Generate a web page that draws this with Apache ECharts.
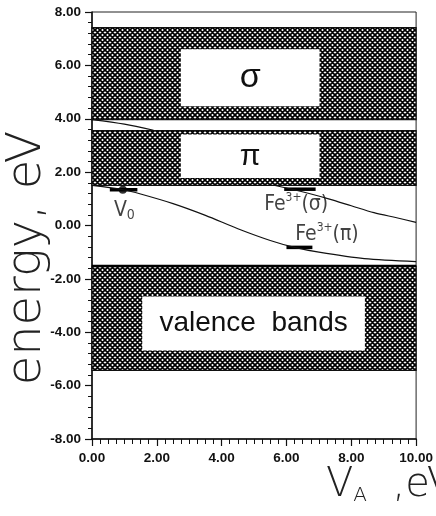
<!DOCTYPE html>
<html>
<head>
<meta charset="utf-8">
<script src="https://cdn.jsdelivr.net/npm/echarts@6/dist/echarts.min.js"></script>
<style>
  html, body { margin: 0; padding: 0; background: #fff; }
  #chart { width: 436px; height: 516px; }
</style>
</head>
<body>
<div id="chart"></div>
<script>
// axis ranges
const X_MIN = 0, X_MAX = 10;
const Y_MIN = -8, Y_MAX = 8;

// hatched bands (energy, eV)
const bandLow = [3.97, 1.50, -5.43];
const bandHigh = [7.42, 3.56, -1.52];

// white boxes inside the bands with their names
const boxX0 = [2.74, 2.74, 1.55];
const boxX1 = [7.02, 7.02, 8.42];
const boxY0 = [4.47, 1.78, -4.68];
const boxY1 = [6.60, 3.41, -2.66];
const boxLabels = ['σ', 'π', 'valence  bands'];

// level curves
const upperX = [0, 1.0, 1.9];
const upperY = [3.97, 3.80, 3.57];
const feSigmaX = [5.65, 6.2, 6.7, 7.3, 8.0, 8.7, 9.4, 10];
const feSigmaY = [1.50, 1.35, 1.20, 1.00, 0.74, 0.48, 0.29, 0.12];
const vacX = [0, 1.0, 1.5, 2.5, 3.5, 4.5, 5.5, 6.25, 7.0, 8.4, 10];
const vacY = [1.50, 1.33, 1.18, 0.82, 0.38, -0.12, -0.56, -0.82, -1.00, -1.24, -1.35];

// short thick marks on the curves
const markX0 = [0.55, 5.93, 6.0];
const markX1 = [1.40, 6.90, 6.8];
const markY = [1.34, 1.36, -0.82];
const dotX = [0.95];
const dotY = [1.34];

// curve labels
const labelX = [1.0, 6.3, 7.25];
const labelY = [0.55, 0.80, -0.33];
const labelText = ['{b|V}{s|0}', '{b|Fe}{p|3+}{b|(σ)}', '{b|Fe}{p|3+}{b|(π)}'];

function makeHatch() {
    const n = 5;
    const c = document.createElement('canvas');
    c.width = n;
    c.height = n;
    const g = c.getContext('2d');
    g.fillStyle = '#fff';
    g.fillRect(0, 0, n, n);
    g.strokeStyle = '#000';
    g.lineWidth = 1.7;
    g.beginPath();
    for (let k = -n; k <= n; k += n) {
        g.moveTo(k, 0); g.lineTo(k + n, n);
        g.moveTo(k + n, 0); g.lineTo(k, n);
    }
    g.stroke();
    return c;
}
const hatch = makeHatch();

const narrow = '"Liberation Sans Narrow", "DejaVu Sans Condensed", sans-serif';
const thin = '"DejaVu Sans", sans-serif';

const chart = echarts.init(document.getElementById('chart'));
chart.setOption({
    backgroundColor: '#fff',
    animation: false,
    grid: {
        left: 92, right: 15, top: 12, bottom: 77,
        show: true, borderColor: '#222', borderWidth: 1
    },
    xAxis: {
        type: 'value', min: X_MIN, max: X_MAX, interval: 2,
        axisLine: { onZero: false, lineStyle: { color: '#111', width: 1.5 } },
        axisTick: { show: true, length: 7, lineStyle: { color: '#111', width: 1.2 } },
        minorTick: { show: true, splitNumber: 8, length: 5, lineStyle: { color: '#111', width: 1 } },
        splitLine: { show: false },
        axisLabel: {
            margin: 12, color: '#111', fontSize: 13.5, fontWeight: 'bold',
            fontFamily: '"Liberation Sans", Arial, sans-serif',
            formatter: v => v.toFixed(2)
        }
    },
    yAxis: {
        type: 'value', min: Y_MIN, max: Y_MAX, interval: 2,
        axisLine: { onZero: false, lineStyle: { color: '#111', width: 1.5 } },
        axisTick: { show: true, length: 7, lineStyle: { color: '#111', width: 1.2 } },
        minorTick: { show: true, splitNumber: 5, length: 4, lineStyle: { color: '#111', width: 1 } },
        splitLine: { show: false },
        axisLabel: {
            margin: 11, color: '#111', fontSize: 13.5, fontWeight: 'bold',
            fontFamily: '"Liberation Sans", Arial, sans-serif',
            formatter: v => v.toFixed(2)
        }
    },
    graphic: [
        {
            type: 'text', x: 28, y: 258, rotation: Math.PI / 2,
            style: {
                text: 'energy, eV', align: 'center', verticalAlign: 'middle',
                font: '200 48px ' + thin, fill: '#222'
            }
        },
        {
            type: 'text', left: 326, top: 466,
            style: {
                text: '{v|V}{s|A}{c|  ,eV}',
                rich: {
                    v: { fontSize: 40, fontFamily: thin, fontWeight: 200, fill: '#222' },
                    s: { fontSize: 20, fontFamily: thin, fontWeight: 200, fill: '#222', verticalAlign: 'bottom', lineHeight: 14 },
                    c: { fontSize: 40, fontFamily: thin, fontWeight: 200, fill: '#222' }
                }
            }
        }
    ],
    series: [
        {
            type: 'custom', name: 'bands', silent: true,
            data: bandLow.map((lo, i) => [lo, bandHigh[i]]),
            renderItem: (params, api) => {
                const p0 = api.coord([X_MIN, api.value(1)]);
                const p1 = api.coord([X_MAX, api.value(0)]);
                return {
                    type: 'rect',
                    shape: { x: p0[0], y: p0[1], width: p1[0] - p0[0], height: p1[1] - p0[1] },
                    style: { fill: { image: hatch, repeat: 'repeat' }, stroke: '#111', lineWidth: 1.2 }
                };
            }
        },
        {
            type: 'line', name: 'valence top', silent: true, symbol: 'none',
            data: [[X_MIN, bandHigh[2]], [X_MAX, bandHigh[2]]],
            lineStyle: { color: '#000', width: 2.5 }
        },
        {
            type: 'custom', name: 'boxes', silent: true,
            data: boxX0.map((x0, i) => [x0, boxY0[i], boxX1[i], boxY1[i]]),
            renderItem: (params, api) => {
                const a = api.coord([api.value(0), api.value(3)]);
                const b = api.coord([api.value(2), api.value(1)]);
                const sizes = [34, 30, 28];
                const i = params.dataIndex;
                return {
                    type: 'group',
                    children: [
                        { type: 'rect', shape: { x: a[0], y: a[1], width: b[0] - a[0], height: b[1] - a[1] }, style: { fill: '#fff' } },
                        {
                            type: 'text',
                            style: {
                                text: boxLabels[i], x: (a[0] + b[0]) / 2, y: (a[1] + b[1]) / 2,
                                align: 'center', verticalAlign: 'middle', fill: '#111',
                                font: sizes[i] + 'px "Liberation Sans", Arial, sans-serif'
                            }
                        }
                    ]
                };
            }
        },
        {
            type: 'line', name: 'upper', silent: true, symbol: 'none', smooth: 0.3,
            data: upperX.map((x, i) => [x, upperY[i]]),
            lineStyle: { color: '#111', width: 1.2 }
        },
        {
            type: 'line', name: 'Fe3+(σ)', silent: true, symbol: 'none', smooth: 0.3,
            data: feSigmaX.map((x, i) => [x, feSigmaY[i]]),
            lineStyle: { color: '#111', width: 1.2 }
        },
        {
            type: 'line', name: 'V0 / Fe3+(π)', silent: true, symbol: 'none', smooth: 0.3,
            data: vacX.map((x, i) => [x, vacY[i]]),
            lineStyle: { color: '#111', width: 1.2 }
        },
        {
            type: 'custom', name: 'marks', silent: true,
            data: markX0.map((x0, i) => [x0, markY[i], markX1[i]]),
            renderItem: (params, api) => {
                const a = api.coord([api.value(0), api.value(1)]);
                const b = api.coord([api.value(2), api.value(1)]);
                return {
                    type: 'line',
                    shape: { x1: a[0], y1: a[1], x2: b[0], y2: b[1] },
                    style: { stroke: '#000', lineWidth: 3.5 }
                };
            }
        },
        {
            type: 'scatter', name: 'dot', silent: true, symbolSize: 8,
            data: dotX.map((x, i) => [x, dotY[i]]),
            itemStyle: { color: '#000' }
        },
        {
            type: 'scatter', name: 'labels', silent: true, symbolSize: 0,
            data: labelX.map((x, i) => ({ value: [x, labelY[i]], text: labelText[i] })),
            label: {
                show: true, position: 'inside',
                formatter: p => p.data.text,
                rich: {
                    b: { fontSize: 21, fontFamily: narrow, color: '#111', lineHeight: 24 },
                    s: { fontSize: 14, fontFamily: narrow, color: '#111', verticalAlign: 'bottom', lineHeight: 10 },
                    p: { fontSize: 12, fontFamily: narrow, color: '#111', verticalAlign: 'top', lineHeight: 10 }
                }
            }
        }
    ]
});
</script>
</body>
</html>
